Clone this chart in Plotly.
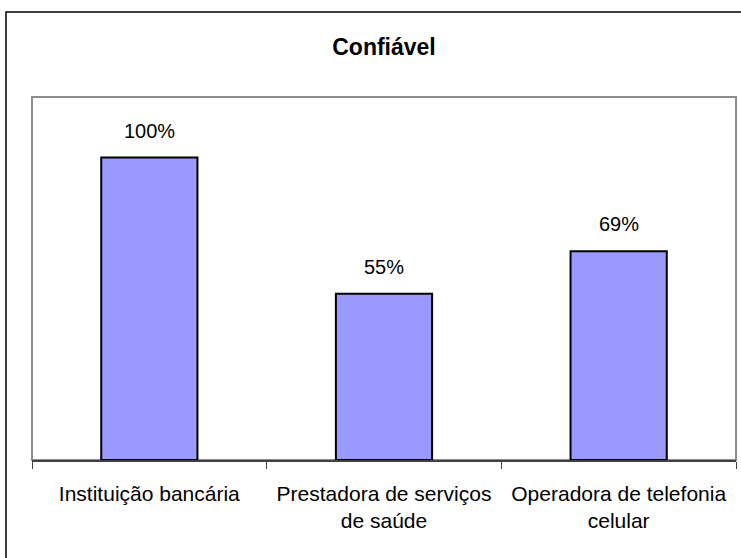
import plotly.graph_objects as go

categories = ["Instituição bancária", "Prestadora de serviços<br>de saúde", "Operadora de telefonia<br>celular"]
values = [100, 55, 69]
labels = ["100%", "55%", "69%"]

W, H = 741, 558
L, R, T, B = 32, 5, 97, 98
pw, ph = W - L - R, H - T - B

fig = go.Figure()
fig.add_trace(go.Bar(
    x=categories, y=values, width=0.41,
    marker=dict(color="#9999FF", line=dict(color="#000000", width=2)),
    hoverinfo="skip",
))

for c, v, t in zip(categories, values, labels):
    fig.add_annotation(x=c, y=v, text=t, showarrow=False, yanchor="bottom",
                       yshift=14, font=dict(family="Liberation Sans, Arial", size=20, color="#000"))

fig.update_layout(
    width=W, height=H,
    margin=dict(l=L, r=R, t=T, b=B),
    paper_bgcolor="white", plot_bgcolor="white",
    showlegend=False,
    title=dict(text="<b>Confiável</b>", x=0.5, xref="paper", xanchor="center",
               y=1 - 47 / H, yanchor="middle", yref="container",
               font=dict(family="Liberation Sans, Arial", size=23, color="#000")),
    xaxis=dict(showgrid=False, showline=True, linecolor="#404040", linewidth=1.5,
               ticks="outside", tickson="boundaries", ticklen=7, tickcolor="#404040",
               tickfont=dict(family="Liberation Sans, Arial", size=21, color="#000"),
               ticklabelstandoff=14, fixedrange=True),
    yaxis=dict(range=[0, 120], showgrid=False, showticklabels=False, showline=False,
               zeroline=False, ticks="", fixedrange=True),
    font=dict(family="Liberation Sans, Arial"),
    shapes=[
        # plot area border (gray)
        dict(type="rect", xref="paper", yref="paper", x0=0, x1=1, y0=0, y1=1,
             line=dict(color="#8c8c8c", width=2), layer="below"),
        # outer chart border (black)
        dict(type="rect", xref="paper", yref="paper",
             x0=(6 - L) / pw, x1=1 + (R + 10) / pw,
             y0=-(B + 10) / ph, y1=1 + (T - 12) / ph,
             line=dict(color="#000000", width=1.5)),
    ],
)

fig.write_html("out.html", config={"displayModeBar": False},
               post_script="document.body.style.margin='0';document.body.style.overflow='hidden';")
